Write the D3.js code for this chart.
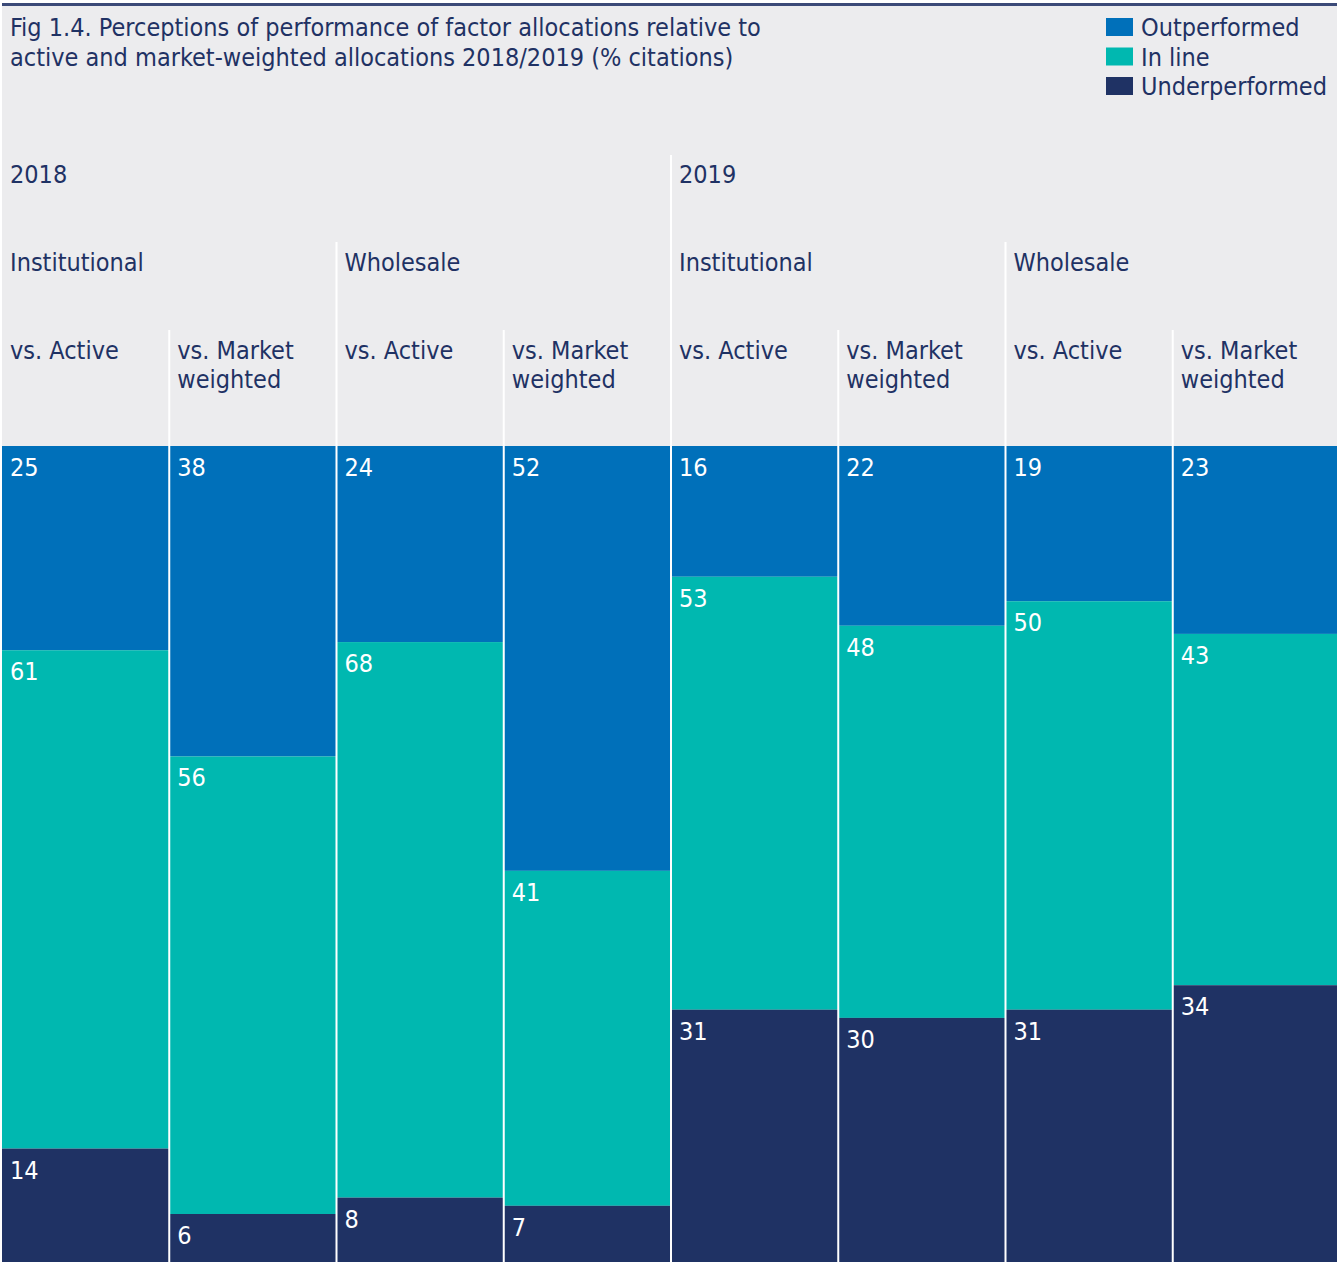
<!DOCTYPE html>
<meta charset="utf-8">
<style>
body { margin: 0; background: #fff; }
text { font-family: "Liberation Sans Narrow", "DejaVu Sans Condensed", Lato, sans-serif; }
</style>
<body>
<script src="https://cdn.jsdelivr.net/npm/d3@7"></script>
<script>

var width = 1337, height = 1262;

// data
var years = ["2018", "2019"];
var channels = ["Institutional", "Wholesale"];
var comparisons = ["vs. Active", "vs. Market weighted"];
var series = ["Outperformed", "In line", "Underperformed"];
var outperformed   = [25, 38, 24, 52, 16, 22, 19, 23];
var inLine         = [61, 56, 68, 41, 53, 48, 50, 43];
var underperformed = [14, 6, 8, 7, 31, 30, 31, 34];

var colors = ["#0070BA", "#00B8B0", "#1F3264"];
var navy = "#1F3264";

// build the column table
var cols = [];
years.forEach(function(y, yi) {
  channels.forEach(function(c, ci) {
    comparisons.forEach(function(m, mi) {
      var i = yi * 4 + ci * 2 + mi;
      cols.push({key: i, year: y, channel: c, comp: m,
        values: [outperformed[i], inLine[i], underperformed[i]]});
    });
  });
});

var svg = d3.select("body").append("svg")
    .attr("width", width)
    .attr("height", height);

svg.append("rect")
    .attr("x", 2).attr("y", 6)
    .attr("width", width - 2).attr("height", height - 6)
    .attr("fill", "#ECECEE");

svg.append("rect")
    .attr("x", 2).attr("y", 3)
    .attr("width", width - 2).attr("height", 3)
    .attr("fill", "#3B4A78");

// last column runs a little past the window edge
var x = d3.scaleBand()
    .domain(d3.range(cols.length))
    .range([2, 1340])
    .paddingInner(0);

var y = d3.scaleLinear()
    .domain([0, 100])
    .range([446, 1263]);

// stacked segments
var stack = d3.stack().keys([0, 1, 2]);
var stacked = stack(cols.map(function(d) { return d.values; }));

var layer = svg.selectAll("g.layer")
    .data(stacked)
    .enter().append("g")
    .attr("class", "layer")
    .attr("fill", function(d, i) { return colors[i]; });

layer.selectAll("rect")
    .data(function(d) { return d; })
    .enter().append("rect")
    .attr("x", function(d, i) { return x(i); })
    .attr("y", function(d) { return y(d[0]); })
    .attr("width", x.bandwidth())
    .attr("height", function(d) { return y(d[1]) - y(d[0]); });

layer.selectAll("text")
    .data(function(d) { return d; })
    .enter().append("text")
    .attr("x", function(d, i) { return x(i) + 8; })
    .attr("y", function(d) { return y(d[0]) + 30; })
    .attr("fill", "#fff")
    .style("font-size", "25px")
    .text(function(d) { return d[1] - d[0]; });

// white separators
var sepTop = [446, 330, 242, 330, 155, 330, 242, 330];
svg.selectAll("line.sep")
    .data(d3.range(1, cols.length))
    .enter().append("line")
    .attr("class", "sep")
    .attr("x1", function(i) { return x(i); })
    .attr("x2", function(i) { return x(i); })
    .attr("y1", function(i) { return sepTop[i]; })
    .attr("y2", height)
    .attr("stroke", "#fff")
    .attr("stroke-width", 2);

// header labels
var lab = svg.append("g").attr("fill", navy).style("font-size", "25px");

years.forEach(function(yr, yi) {
  lab.append("text").attr("x", x(yi * 4) + 8).attr("y", 183).text(yr);
});
cols.forEach(function(d, i) {
  if (i % 2 === 0) lab.append("text").attr("x", x(i) + 8).attr("y", 271).text(d.channel);
  var t = lab.append("text").attr("x", x(i) + 8).attr("y", 359);
  if (d.comp === "vs. Active") t.text(d.comp);
  else {
    t.append("tspan").attr("x", x(i) + 8).text("vs. Market");
    t.append("tspan").attr("x", x(i) + 8).attr("dy", 29).text("weighted");
  }
});

// title
var title = lab.append("text").attr("x", 10).attr("y", 36);
title.append("tspan").text("Fig 1.4. Perceptions of performance of factor allocations relative to");
title.append("tspan").attr("x", 10).attr("dy", 30).text("active and market-weighted allocations 2018/2019 (% citations)");

// legend
var leg = svg.append("g").selectAll("g")
    .data(series)
    .enter().append("g")
    .attr("transform", function(d, i) { return "translate(1106," + (18 + i * 29.5) + ")"; });

leg.append("rect")
    .attr("width", 27).attr("height", 18)
    .attr("fill", function(d, i) { return colors[i]; });

leg.append("text")
    .attr("x", 35).attr("y", 18)
    .attr("fill", navy)
    .style("font-size", "25px")
    .text(function(d) { return d; });

</script>
